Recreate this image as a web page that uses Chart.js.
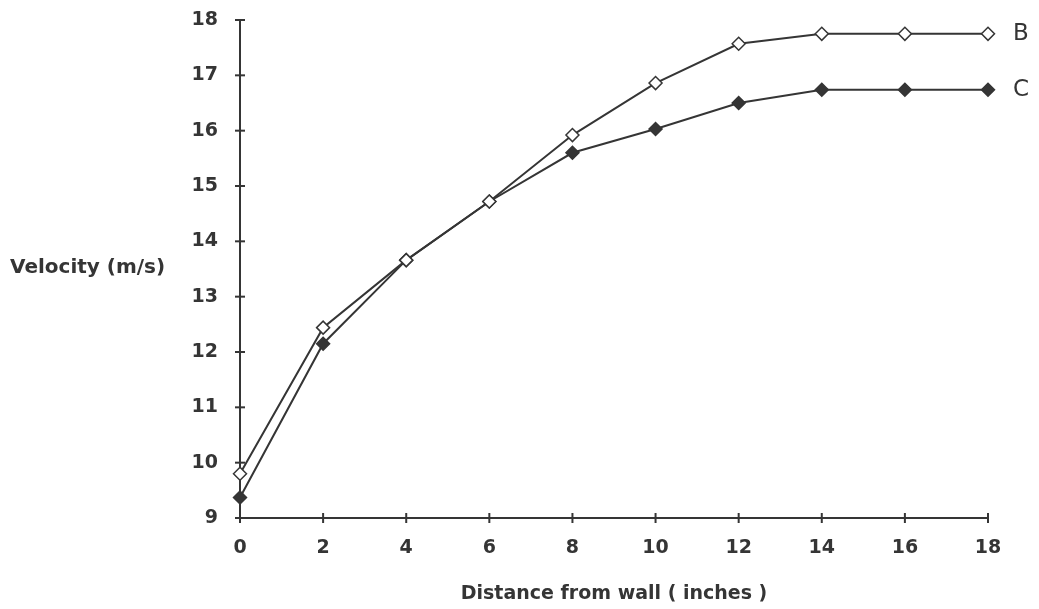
<!DOCTYPE html>
<html>
<head>
<meta charset="utf-8">
<script src="https://cdn.jsdelivr.net/npm/chart.js@4"></script>
<style>
  html, body { margin: 0; padding: 0; background: #fff; }
  #wrap { width: 1039px; height: 609px; position: relative; }
</style>
</head>
<body>
<div id="wrap"><canvas id="myChart"></canvas></div>
<script>
const distance = [0, 2, 4, 6, 8, 10, 12, 14, 16, 18];
const velocityB = [9.8, 12.44, 13.66, 14.72, 15.92, 16.86, 17.57, 17.75, 17.75, 17.75];
const velocityC = [9.37, 12.15, 13.66, 14.72, 15.6, 16.03, 16.5, 16.74, 16.74, 16.74];
const seriesNames = ['B', 'C'];
const yTitle = 'Velocity (m/s)';
const xTitle = 'Distance from wall ( inches )';

const ink = '#353535';
const font = "'DejaVu Sans', sans-serif";

// ticks that cross the axis line, plus the side labels
const extras = {
    id: 'extras',
    afterDraw(chart) {
        const c = chart.ctx;
        const x = chart.scales.x, y = chart.scales.y;
        c.save();
        c.strokeStyle = ink;
        c.lineWidth = 2;
        x.ticks.forEach((t, i) => {
            const px = x.getPixelForTick(i);
            c.beginPath();
            c.moveTo(px, y.bottom - 5);
            c.lineTo(px, y.bottom + 5);
            c.stroke();
        });
        y.ticks.forEach((t, i) => {
            const py = y.getPixelForTick(i);
            c.beginPath();
            c.moveTo(x.left - 5, py);
            c.lineTo(x.left + 5, py);
            c.stroke();
        });
        c.fillStyle = ink;
        c.font = 'bold 20px ' + font;
        c.textBaseline = 'middle';
        c.textAlign = 'left';
        c.fillText(yTitle, 10, 268);
        c.font = '23px ' + font;
        chart.data.datasets.forEach((ds, i) => {
            const pts = chart.getDatasetMeta(i).data;
            const last = pts[pts.length - 1];
            c.fillText(seriesNames[i], last.x + 25, last.y);
        });
        c.restore();
    }
};

new Chart(document.getElementById('myChart'), {
    type: 'line',
    data: {
        datasets: [
            {
                label: seriesNames[0],
                data: distance.map((d, i) => ({ x: d, y: velocityB[i] })),
                borderColor: ink,
                borderWidth: 2,
                clip: false,
                pointStyle: 'rectRot',
                pointRadius: 6.5,
                pointBackgroundColor: '#fff',
                pointBorderColor: ink,
                pointBorderWidth: 1.5
            },
            {
                label: seriesNames[1],
                data: distance.map((d, i) => ({ x: d, y: velocityC[i] })),
                borderColor: ink,
                borderWidth: 2,
                clip: false,
                pointStyle: 'rectRot',
                pointRadius: 6.5,
                pointBackgroundColor: ink,
                pointBorderColor: ink,
                pointBorderWidth: 1.5
            }
        ]
    },
    options: {
        responsive: true,
        maintainAspectRatio: false,
        animation: false,
        layout: { padding: { top: 20, right: 51, left: 0, bottom: 0 } },
        plugins: {
            legend: { display: false },
            tooltip: { enabled: false }
        },
        scales: {
            x: {
                type: 'linear',
                min: 0,
                max: 18,
                grid: { display: false },
                border: { display: true, color: ink, width: 2 },
                ticks: {
                    stepSize: 2,
                    padding: 11,
                    color: ink,
                    font: { family: font, size: 19, weight: 'bold' }
                },
                title: {
                    display: true,
                    text: xTitle,
                    color: ink,
                    padding: { top: 17 },
                    font: { family: font, size: 19, weight: 'bold' }
                },
                afterFit(scale) { scale.height = 91; }
            },
            y: {
                min: 9,
                max: 18,
                grid: { display: false },
                border: { display: true, color: ink, width: 2 },
                ticks: {
                    stepSize: 1,
                    padding: 14,
                    color: ink,
                    font: { family: font, size: 19, weight: 'bold', lineHeight: 0.3 }
                },
                afterFit(scale) { scale.width = 240; }
            }
        }
    },
    plugins: [extras]
});
</script>
</body>
</html>
